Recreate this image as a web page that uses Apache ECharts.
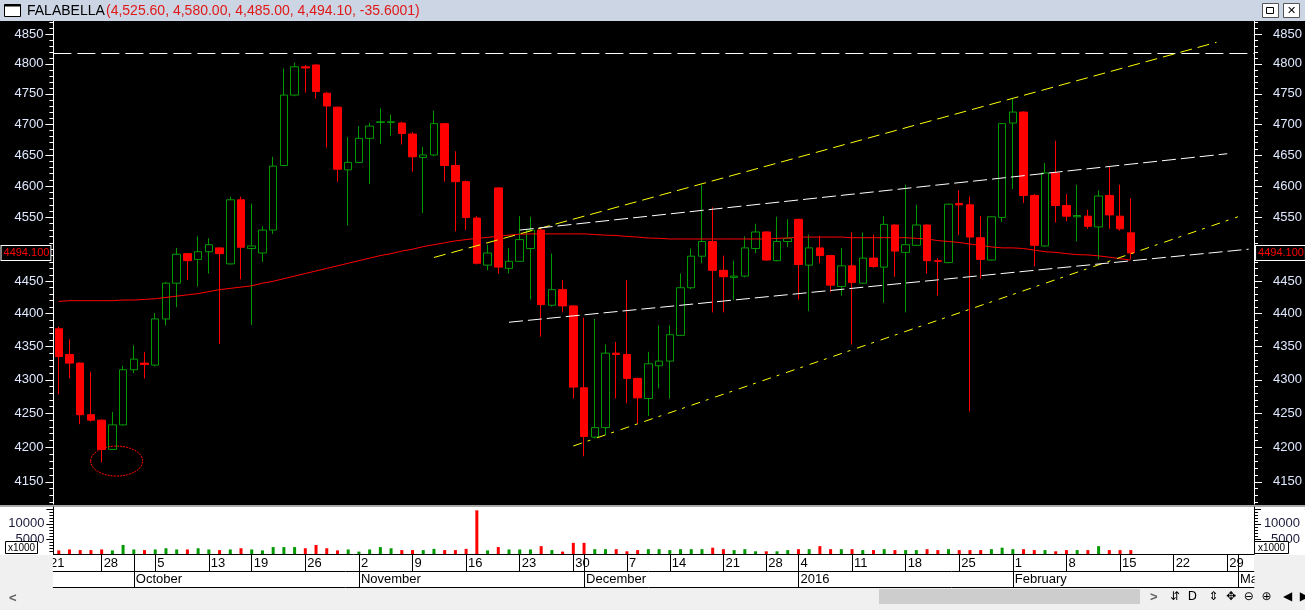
<!DOCTYPE html>
<html><head><meta charset="utf-8">
<script src="https://cdn.jsdelivr.net/npm/echarts@6/dist/echarts.min.js"></script>
<style>html,body{margin:0;padding:0;background:#f0f0f0;overflow:hidden}#c{width:1305px;height:610px}</style>
</head><body><div id="c"></div>
<script>
// ---------- DATA ----------
// Trading-day calendar (index 0 = 21 Sep 2015 is just off the left edge)
const dates = ['2015-09-21','2015-09-22','2015-09-23','2015-09-24','2015-09-25','2015-09-28','2015-09-29','2015-09-30',
'2015-10-01','2015-10-02','2015-10-05','2015-10-06','2015-10-07','2015-10-08','2015-10-09','2015-10-13','2015-10-14','2015-10-15','2015-10-16','2015-10-19','2015-10-20','2015-10-21','2015-10-22','2015-10-23','2015-10-26','2015-10-27','2015-10-28','2015-10-29','2015-10-30',
'2015-11-02','2015-11-03','2015-11-04','2015-11-05','2015-11-06','2015-11-09','2015-11-10','2015-11-11','2015-11-12','2015-11-13','2015-11-16','2015-11-17','2015-11-18','2015-11-19','2015-11-20','2015-11-23','2015-11-24','2015-11-25','2015-11-26','2015-11-27','2015-11-30',
'2015-12-01','2015-12-02','2015-12-03','2015-12-04','2015-12-07','2015-12-09','2015-12-10','2015-12-11','2015-12-14','2015-12-15','2015-12-16','2015-12-17','2015-12-18','2015-12-21','2015-12-22','2015-12-23','2015-12-24','2015-12-28','2015-12-29','2015-12-30',
'2016-01-04','2016-01-05','2016-01-06','2016-01-07','2016-01-08','2016-01-11','2016-01-12','2016-01-13','2016-01-14','2016-01-15','2016-01-18','2016-01-19','2016-01-20','2016-01-21','2016-01-22','2016-01-25','2016-01-26','2016-01-27','2016-01-28','2016-01-29',
'2016-02-01','2016-02-02','2016-02-03','2016-02-04','2016-02-05','2016-02-08','2016-02-09','2016-02-10','2016-02-11','2016-02-12','2016-02-15','2016-02-16',
'2016-02-17','2016-02-18','2016-02-19','2016-02-22','2016-02-23','2016-02-24','2016-02-25','2016-02-26','2016-02-29','2016-03-01','2016-03-02'];

// OHLC of the visible candles (22 Sep 2015 .. 16 Feb 2016)
const opens  = [4377,4338,4325,4248,4240,4197,4233,4315,4325,4322,4392,4447,4493,4484,4496,4502,4477,4578,4501,4494,
4530,4633,4748,4795,4798,4751,4728,4626,4638,4677,4703,4703,4702,4684,4646,4650,4701,4633,4607,4549,
4475,4597,4470,4481,4501,4530,4413,4437,4412,4288,4215,4229,4340,4338,4302,4272,4321,4328,4367,4440,
4489,4512,4467,4456,4458,4501,4527,4482,4512,4547,4475,4502,4490,4442,4474,4447,4486,4472,4538,4495,
4506,4538,4482,4479,4572,4570,4518,4483,4550,4702,4720,4585,4505,4621,4569,4551,4552,4535,4585,4552,4525.6];
const highs  = [4380,4361,4326,4312,4241,4252,4321,4352,4342,4401,4449,4502,4494,4520,4517,4503,4583,4583,4572,4536,
4647,4792,4802,4798,4799,4753,4729,4679,4697,4702,4726,4716,4704,4687,4663,4722,4702,4656,4609,4552,
4507,4598,4502,4552,4551,4532,4493,4452,4413,4394,4392,4353,4357,4452,4303,4342,4382,4382,4462,4501,
4602,4566,4490,4482,4520,4540,4528,4551,4547,4548,4523,4521,4491,4502,4527,4526,4523,4552,4539,4602,
4570,4539,4486,4572,4593,4583,4552,4552,4702,4742,4721,4587,4637,4673,4587,4602,4562,4593,4632,4602,4580];
const lows   = [4278,4302,4234,4238,4178,4196,4232,4310,4302,4320,4382,4410,4452,4442,4462,4354,4476,4453,4383,4480,
4524,4632,4746,4752,4742,4662,4607,4537,4637,4603,4668,4681,4667,4623,4557,4648,4607,4528,4530,4476,
4467,4462,4462,4480,4422,4365,4411,4402,4272,4187,4213,4218,4272,4265,4234,4246,4287,4272,4366,4438,
4478,4402,4402,4421,4456,4494,4482,4481,4503,4422,4404,4478,4433,4428,4353,4446,4471,4417,4457,4402,
4505,4462,4428,4478,4522,4253,4454,4482,4543,4595,4573,4473,4504,4542,4544,4512,4532,4484,4532,4529,4485];
const closes = [4335,4325,4248,4240,4197,4233,4315,4331,4323,4392,4447,4492,4482,4496,4507,4493,4578,4503,4505,4530,
4632,4748,4795,4793,4754,4730,4627,4638,4677,4697,4704,4704,4685,4647,4650,4701,4633,4607,4550,4478,
4494,4472,4481,4515,4530,4414,4437,4412,4289,4216,4229,4340,4338,4302,4273,4324,4328,4368,4440,4489,
4512,4467,4457,4458,4502,4527,4483,4512,4517,4476,4502,4490,4444,4474,4448,4486,4473,4539,4497,4507,
4538,4482,4481,4571,4570,4519,4484,4551,4701,4720,4585,4506,4621,4569,4552,4553,4536,4584,4554,4532,4494.1];
// Volume (x1000)
const volumes = [1200,1500,1300,1300,1500,1200,3000,1500,1300,1500,1900,1500,1500,1900,1500,1300,1500,1900,1500,1200,
2300,2300,2300,1900,3000,1900,1200,1500,800,1500,2300,1900,1300,1300,1300,1700,1300,1300,1700,14500,
1200,2300,1500,1500,1500,2600,1300,800,3700,3700,1600,1600,1600,900,1300,1600,1600,1300,1600,1600,
1600,2100,1600,1300,1600,900,900,900,1300,1600,1600,2600,1600,1600,1600,1300,1300,1600,1300,1300,
1300,1600,1300,1600,1300,1300,1300,1600,2100,1600,1600,1300,1300,900,1300,1300,1300,2600,1300,1300,1300];
// Long moving average (red line)
const movingAvg = [4419,4420,4420,4420,4420,4420,4421,4421,4422,4423,4425,4427,4429,4431,4434,4437,4439,4441,4443,4447,
4450,4454,4458,4462,4466,4470,4474,4478,4482,4486,4490,4493,4497,4500,4504,4507,4510,4513,4515,4517,
4518.5,4520.5,4522,4523.5,4524,4524,4524,4524,4524,4524,4523,4522,4521.5,4520,4519,4517.5,4517,4516,4516,4516,
4516,4516,4516,4516,4516,4516,4516,4517,4517.5,4519,4519,4519,4519,4519,4518,4518,4518,4518,4518,4518,
4517,4516,4513.5,4512,4510.5,4508,4506,4503.5,4502,4502,4501,4498.5,4496,4495,4493,4491.5,4491,4489.5,4487.5,4485,4483];

// Drawn annotations: [candle index, price]
const resistanceLevel = 4818;
const upperChannelYellow = [[35, 4487], [108, 4836]];
const lowerChannelYellow = [[48, 4202], [110, 4551]];
const upperChannelWhite  = [[43, 4530], [109, 4652]];
const lowerChannelWhite  = [[42, 4387], [111, 4500]];
const lowCircle = {k: 5.4, price: 4180};
const lastPrice = 4494.1;

// Axis ticks / labels
const priceTicks = [4150,4200,4250,4300,4350,4400,4450,4500,4550,4600,4650,4700,4750,4800,4850];
const priceLabels = [4150,4200,4250,4300,4350,4400,4450,4550,4600,4650,4700,4750,4800,4850];
const priceMinorTicks = [4120,4130,4140,4160,4170,4180,4190,4210,4220,4230,4240,4260,4270,4280,4290,4310,4320,4330,4340,4360,4370,4380,4390,4410,4420,4430,4440,4460,4470,4480,4490,4510,4520,4530,4540,4560,4570,4580,4590,4610,4620,4630,4640,4660,4670,4680,4690,4710,4720,4730,4740,4760,4770,4780,4790,4810,4820,4830,4840,4860,4870];
const volumeTicks = [5000,10000,15000];
const volumeMinorTicks = [1000,2000,3000,4000,6000,7000,8000,9000,11000,12000,13000,14000];
const volumeLabels = [5000,10000];
const dayTickIdx  = [0,5,10,15,19,24,29,34,39,44,49,54,58,63,67,70,75,80,85,90,95,100,105,110];
const dayTickText = ['21','28','5','13','19','26','2','9','16','23','30','7','14','21','28','4','11','18','25','1','8','15','22','29'];
const monthIdx  = [8,29,50,70,90,111];
const monthText = ['October','November','December','2016','February','March'];

// ---------- CHART ----------
const cats = dates.slice(1);
const N = cats.length;            // 112 slots
const SLOT = 10.72;
const LEFT = 53.4;
const W = N * SLOT;

const candleData = opens.map((o, i) => [o, closes[i], lows[i], highs[i]]);
const volData = volumes.map((v, i) => ({value: v, itemStyle: {color: closes[i] >= opens[i] ? '#009a00' : '#ff0000'}}));
const dayLabelMap = {}; dayTickIdx.forEach((d, i) => dayLabelMap[d] = dayTickText[i]);
const monthLabelMap = {}; monthIdx.forEach((d, i) => monthLabelMap[d] = monthText[i]);
const dayRowTicks = dayTickIdx.concat(monthIdx);

const FONT = 'Liberation Sans, Arial, sans-serif';
const PMIN = 4118, PMAX = 4872;

function priceAxis(pos, major) {
  return {
    gridIndex: 0, type: 'log', logBase: 10, min: PMIN, max: PMAX, position: pos,
    axisLine: {show: major, lineStyle: {color: '#ffffff', width: 1}},
    axisTick: {show: true, customValues: major ? priceTicks : priceMinorTicks, length: major ? 8 : 4, lineStyle: {color: '#ffffff'}},
    axisLabel: major ? {show: true, customValues: priceLabels, color: '#dfe8ff', fontSize: 13, fontFamily: FONT,
      margin: pos === 'left' ? 10 : 19, formatter: v => String(Math.round(v))} : {show: false},
    splitLine: {show: false}
  };
}
function volAxis(pos, major) {
  return {
    gridIndex: 1, type: 'value', min: 0, max: 15600, position: pos,
    axisLine: {show: major, lineStyle: {color: '#000000'}},
    axisTick: {show: true, customValues: major ? volumeTicks : volumeMinorTicks, length: major ? 7 : 4, lineStyle: {color: '#000000'}},
    axisLabel: major ? {show: true, customValues: volumeLabels, color: '#1a1a3a', fontSize: 13, fontFamily: FONT,
      align: 'right', margin: pos === 'left' ? 9 : 46, formatter: v => String(Math.round(v))} : {show: false},
    splitLine: {show: false}
  };
}
const hidden = {show: false};
const lastLbl = (pos, dist) => ({show: true, position: pos, distance: dist, formatter: lastPrice.toFixed(3), color: '#ff0000',
  backgroundColor: '#000', borderColor: '#ffffff', borderWidth: 1, padding: [2, 1, 1, 2], fontSize: 11, fontFamily: FONT});

const chart = echarts.init(document.getElementById('c'), null, {renderer: 'canvas'});
const option = {
  animation: false,
  backgroundColor: '#f0f0f0',
  grid: [
    {left: LEFT, width: W, top: 21, height: 483, show: true, backgroundColor: '#000000', borderWidth: 0},
    {left: LEFT, width: W, top: 507, height: 47, show: true, backgroundColor: '#ffffff', borderWidth: 0},
    {left: LEFT - SLOT, width: W + SLOT, top: 555, height: 16, show: true, backgroundColor: '#ffffff', borderWidth: 0},
    {left: LEFT - SLOT, width: W + SLOT, top: 571, height: 16, show: true, backgroundColor: '#ffffff', borderWidth: 0}
  ],
  xAxis: [
    {gridIndex: 0, type: 'category', data: cats, boundaryGap: true, axisLine: hidden, axisTick: hidden, axisLabel: hidden, splitLine: hidden},
    {gridIndex: 1, type: 'category', data: cats, boundaryGap: true, position: 'bottom',
      axisLine: {show: true, lineStyle: {color: '#000'}}, axisTick: hidden, axisLabel: hidden, splitLine: hidden},
    {gridIndex: 2, type: 'value', min: -0.5, max: N + 0.5, position: 'bottom',
      axisLine: {show: true, lineStyle: {color: '#000'}},
      axisTick: {show: true, inside: true, length: 16, customValues: dayRowTicks, lineStyle: {color: '#000'}},
      axisLabel: {show: true, inside: true, customValues: dayTickIdx, margin: 8, verticalAlign: 'middle', align: 'left',
        padding: [0, 0, 0, 2], color: '#000', fontSize: 13, fontFamily: FONT, formatter: v => dayLabelMap[Math.round(v)] || ''},
      splitLine: hidden},
    {gridIndex: 3, type: 'value', min: -0.5, max: N + 0.5, position: 'bottom',
      axisLine: {show: true, lineStyle: {color: '#000'}},
      axisTick: {show: true, inside: true, length: 16, customValues: monthIdx, lineStyle: {color: '#000'}},
      axisLabel: {show: true, inside: true, customValues: monthIdx, margin: 8, verticalAlign: 'middle', align: 'left',
        padding: [0, 0, 0, 2], color: '#000', fontSize: 13, fontFamily: FONT, formatter: v => monthLabelMap[Math.round(v)] || ''},
      splitLine: hidden}
  ],
  yAxis: [
    priceAxis('left', true), priceAxis('left', false), priceAxis('right', true), priceAxis('right', false),
    volAxis('left', true), volAxis('left', false), volAxis('right', true), volAxis('right', false),
    {gridIndex: 2, type: 'value', show: false}, {gridIndex: 3, type: 'value', show: false}
  ],
  series: [
    {
      type: 'candlestick', xAxisIndex: 0, yAxisIndex: 0, data: candleData, barWidth: 8,
      itemStyle: {color: '#000000', color0: '#ff0000', borderColor: '#009a00', borderColor0: '#ff0000', borderWidth: 1},
      markLine: {
        silent: true, symbol: 'none', animation: false,
        data: [
          {yAxis: lastPrice, lineStyle: {color: 'rgba(0,0,0,0)', width: 0}, label: lastLbl('start', 3)},
          {yAxis: lastPrice, lineStyle: {color: 'rgba(0,0,0,0)', width: 0}, label: lastLbl('end', 2)}
        ]
      }
    },
    {
      type: 'line', xAxisIndex: 0, yAxisIndex: 0, data: movingAvg, symbol: 'none', silent: true,
      lineStyle: {color: '#ff0000', width: 1},
      markLine: {
        silent: true, symbol: 'none', animation: false, label: {show: false},
        data: [
          {yAxis: resistanceLevel, lineStyle: {color: '#ffffff', width: 1, type: [18, 6]}},
          [{coord: upperChannelYellow[0], lineStyle: {color: '#ffff00', width: 1, type: [12, 6]}}, {coord: upperChannelYellow[1]}],
          [{coord: lowerChannelYellow[0], lineStyle: {color: '#ffff00', width: 1, type: [9, 6, 3, 7]}}, {coord: lowerChannelYellow[1]}],
          [{coord: upperChannelWhite[0], lineStyle: {color: '#ffffff', width: 1, type: [14, 5]}}, {coord: upperChannelWhite[1]}],
          [{coord: lowerChannelWhite[0], lineStyle: {color: '#ffffff', width: 1, type: [14, 5]}}, {coord: lowerChannelWhite[1]}]
        ]
      }
    },
    {type: 'bar', xAxisIndex: 1, yAxisIndex: 4, data: volData, barWidth: 3, silent: true}
  ]
};
chart.setOption(option);

// UI chrome and annotations
const c1 = chart.convertToPixel({xAxisIndex: 0, yAxisIndex: 0}, [Math.floor(lowCircle.k), lowCircle.price]);
const c2 = chart.convertToPixel({xAxisIndex: 0, yAxisIndex: 0}, [Math.floor(lowCircle.k) + 1, lowCircle.price]);
const ecx = c1[0] + (c2[0] - c1[0]) * (lowCircle.k - Math.floor(lowCircle.k));
const ecy = c1[1];
const gx = LEFT + W;
chart.setOption({graphic: [
  {type: 'rect', z: -5, silent: true, shape: {x: 0, y: 21, width: 1305, height: 484}, style: {fill: '#000000'}},
  {type: 'rect', z: -5, silent: true, shape: {x: 0, y: 505, width: 1305, height: 2}, style: {fill: '#a8a8a8'}},
  {type: 'rect', z: -5, silent: true, shape: {x: 0, y: 507, width: 1305, height: 48}, style: {fill: '#ffffff'}},
  // title bar
  {type: 'rect', z: 50, silent: true, shape: {x: 0, y: 0, width: 1305, height: 21}, style: {fill: '#cbd5e3'}},
  {type: 'rect', z: 51, silent: true, shape: {x: 4.5, y: 4.5, width: 16, height: 12}, style: {fill: '#ffffff', stroke: '#000', lineWidth: 1}},
  {type: 'rect', z: 52, silent: true, shape: {x: 4.5, y: 4.5, width: 16, height: 2}, style: {fill: '#000'}},
  {type: 'text', z: 51, silent: true, x: 27, y: 11, style: {text: 'FALABELLA', font: '14px ' + FONT, fill: '#000', verticalAlign: 'middle'}},
  {type: 'text', z: 51, silent: true, x: 106, y: 11, style: {text: '(4,525.60, 4,580.00, 4,485.00, 4,494.10, -35.6001)', font: '14px ' + FONT, fill: '#e01818', verticalAlign: 'middle'}},
  {type: 'rect', z: 51, silent: true, shape: {x: 1262.5, y: 3.5, width: 16, height: 14}, style: {fill: '#ffffff', stroke: '#555', lineWidth: 1}},
  {type: 'rect', z: 52, silent: true, shape: {x: 1266.5, y: 7.5, width: 7, height: 6}, style: {fill: 'none', stroke: '#000', lineWidth: 1}},
  {type: 'rect', z: 51, silent: true, shape: {x: 1283.5, y: 3.5, width: 16, height: 14}, style: {fill: '#ffffff', stroke: '#555', lineWidth: 1}},
  {type: 'text', z: 52, silent: true, x: 1291.5, y: 11, style: {text: '✕', font: '11px DejaVu Sans', fill: '#000', align: 'center', verticalAlign: 'middle'}},
  // gray side areas of the date strip
  {type: 'rect', z: 100, silent: true, shape: {x: 0, y: 555, width: LEFT - 0.5, height: 33}, style: {fill: '#f0f0f0'}},
  {type: 'rect', z: 100, silent: true, shape: {x: gx + 0.5, y: 555, width: 60, height: 33}, style: {fill: '#f0f0f0'}},
  {type: 'rect', z: 100, silent: true, shape: {x: 0, y: 588, width: 1305, height: 22}, style: {fill: '#f0f0f0'}},
  // x1000 boxes
  {type: 'rect', z: 60, silent: true, shape: {x: 5.5, y: 541.5, width: 32, height: 12}, style: {fill: '#ffffff', stroke: '#000', lineWidth: 1}},
  {type: 'text', z: 61, silent: true, x: 21.5, y: 548, style: {text: 'x1000', font: '10px ' + FONT, fill: '#000', align: 'center', verticalAlign: 'middle'}},
  {type: 'rect', z: 60, silent: true, shape: {x: gx + 0.5, y: 541.5, width: 34, height: 12}, style: {fill: '#ffffff', stroke: '#000', lineWidth: 1}},
  {type: 'text', z: 61, silent: true, x: gx + 17.5, y: 548, style: {text: 'x1000', font: '10px ' + FONT, fill: '#000', align: 'center', verticalAlign: 'middle'}},
  // scrollbar
  {type: 'text', z: 101, silent: true, x: 9, y: 598, style: {text: '<', font: 'bold 13px ' + FONT, fill: '#606060', verticalAlign: 'middle'}},
  {type: 'rect', z: 101, silent: true, shape: {x: 879, y: 589, width: 261, height: 15}, style: {fill: '#cdcdcd'}},
  {type: 'text', z: 101, silent: true, x: 1150, y: 597, style: {text: '>', font: 'bold 13px ' + FONT, fill: '#606060', verticalAlign: 'middle'}},
  {type: 'text', z: 101, silent: true, x: 1170, y: 597, style: {text: '⇵  D   ⇕  ✥  ⊖  ⊕   ◀  ▶  ☰', font: '12px DejaVu Sans', fill: '#000', verticalAlign: 'middle'}},
  // circled low
  {type: 'ellipse', z: 40, silent: true, shape: {cx: ecx, cy: ecy, rx: 26, ry: 15}, style: {fill: 'none', stroke: '#ff0000', lineWidth: 1, lineDash: [2, 1]}}
]});
</script>
</body></html>
